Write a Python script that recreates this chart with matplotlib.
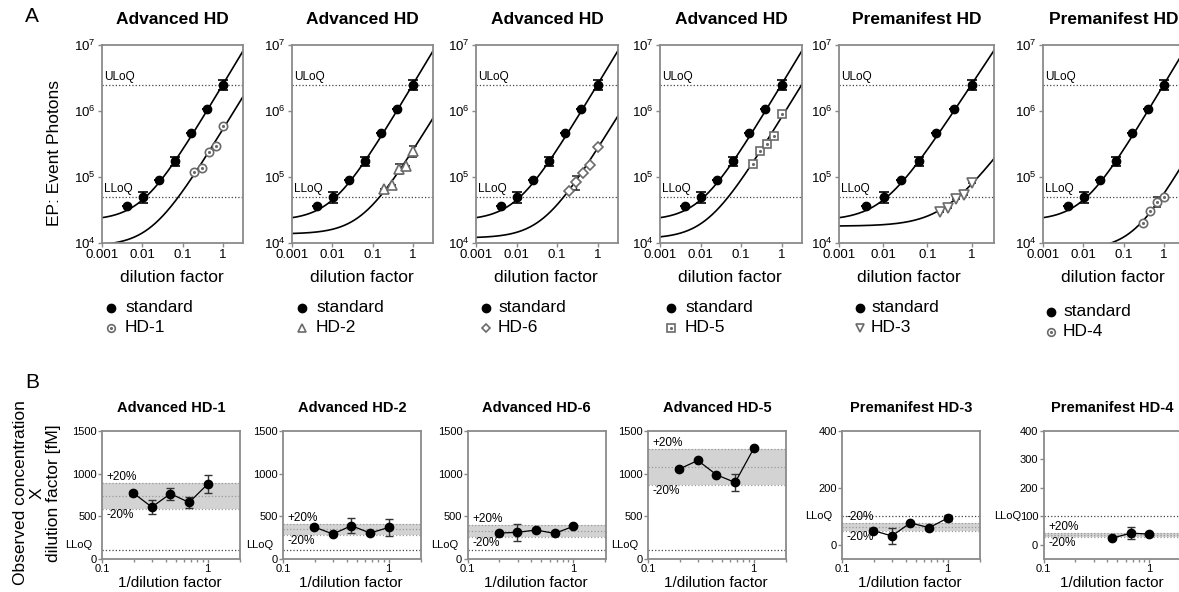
import numpy as np
import matplotlib
matplotlib.use('Agg')
import matplotlib.pyplot as plt
from matplotlib.ticker import FixedLocator, NullLocator, LogLocator, NullFormatter

plt.rcParams['font.family'] = ['Liberation Sans', 'DejaVu Sans']
plt.rcParams['mathtext.default'] = 'regular'

# ------------------------------------------------------------------ data (panel A)
top_titles = ['Advanced HD', 'Advanced HD', 'Advanced HD', 'Advanced HD',
              'Premanifest HD', 'Premanifest HD']
sample_names = ['HD-1', 'HD-2', 'HD-6', 'HD-5', 'HD-3', 'HD-4']

std_x = [0.0041, 0.01024, 0.0256, 0.064, 0.16, 0.4, 1.0]
std_y = [3.6e4, 5.0e4, 9.1e4, 1.75e5, 4.7e5, 1.08e6, 2.5e6]
std_err = [0, 1.0e4, 0, 2.8e4, 0, 0, 4.0e5]

sample_x = [0.1975, 0.296, 0.444, 0.667, 1.0]
hd1_y = [1.17e5, 1.36e5, 2.43e5, 3.0e5, 5.95e5]
hd1_err = [0, 0, 0, 0, 0]
hd2_y = [6.6e4, 7.6e4, 1.33e5, 1.48e5, 2.5e5]
hd2_err = [0, 0, 2.3e4, 0, 5.0e4]
hd6_y = [6.2e4, 8.3e4, 1.15e5, 1.53e5, 2.8e5]
hd6_err = [0, 2.0e4, 0, 0, 0]
hd5_y = [1.57e5, 2.44e5, 3.15e5, 4.2e5, 8.9e5]
hd5_err = [0, 0, 0, 0, 0]
hd3_y = [3.0e4, 3.35e4, 4.6e4, 5.3e4, 8.2e4]
hd3_err = [0, 0, 0, 0, 0]
hd4_x = [0.296, 0.444, 0.667, 1.0]
hd4_y = [2.0e4, 3.1e4, 4.2e4, 4.9e4]
hd4_err = [0, 0, 7.0e3, 0]

lloq_ep = 5.0e4
uloq_ep = 2.5e6

# fitted calibration curves: (background, amplitude, exponent)
std_fit = (2.2e4, 2.5e6, 1.02)
hd1_fit = (9.0e3, 5.2e5, 1.0)
hd2_fit = (1.37e4, 2.42e5, 1.0)
hd6_fit = (1.19e4, 2.6e5, 1.0)
hd5_fit = (1.16e4, 7.9e5, 1.0)
hd3_fit = (1.8e4, 6.0e4, 0.9)
hd4_fit = (8.0e3, 4.8e4, 1.05)

# ------------------------------------------------------------------ data (panel B)
bottom_titles = ['Advanced HD-1', 'Advanced HD-2', 'Advanced HD-6', 'Advanced HD-5',
                 'Premanifest HD-3', 'Premanifest HD-4']
conc_x = [0.1975, 0.296, 0.444, 0.667, 1.0]
conc_hd1 = [773, 609, 765, 663, 878]
conc_hd1_err = [25, 85, 72, 65, 110]
conc_hd2 = [375, 293, 390, 304, 370]
conc_hd2_err = [15, 0, 85, 0, 95]
conc_hd6 = [304, 312, 340, 300, 382]
conc_hd6_err = [0, 100, 25, 0, 0]
conc_hd5 = [1054, 1155, 987, 897, 1295]
conc_hd5_err = [25, 0, 0, 100, 0]
conc_hd3 = [50, 31, 77, 60, 94]
conc_hd3_err = [8, 28, 0, 0, 10]
conc_hd4_x = [0.444, 0.667, 1.0]
conc_hd4 = [23, 41, 37.5]
conc_hd4_err = [0, 21, 5]
lloq_conc = 100

# ------------------------------------------------------------------ layout / styles
W, H = 1179, 592
fig = plt.figure(figsize=(W / 100, H / 100), dpi=100)


def px_axes(left, top, width, height):
    return fig.add_axes([left / W, 1 - (top + height) / H, width / W, height / H])


SPINE = '#8a8a8a'
EDGE = '#6a6a6a'


def style(ax, labelsize=9, pad=1.5):
    for s in ax.spines.values():
        s.set_color(SPINE)
        s.set_linewidth(1.3)
    ax.tick_params(axis='both', which='both', direction='out', color=SPINE,
                   width=1, labelsize=labelsize, pad=pad)
    ax.tick_params(which='major', length=3)
    ax.tick_params(which='minor', length=1.8)


top_lefts = [102, 292, 476, 660, 839, 1043]
top_widths = [141, 141, 142, 142, 155, 141]
top_top, top_h = 45, 198
xmax_top = [3.16, 3.16, 3.2, 3.2, 3.22, 3.16]

samples = [
    (sample_x, hd1_y, hd1_err, hd1_fit, 'o', True),
    (sample_x, hd2_y, hd2_err, hd2_fit, '^', False),
    (sample_x, hd6_y, hd6_err, hd6_fit, 'D', False),
    (sample_x, hd5_y, hd5_err, hd5_fit, 's', True),
    (sample_x, hd3_y, hd3_err, hd3_fit, 'v', False),
    (hd4_x, hd4_y, hd4_err, hd4_fit, 'o', True),
]
marker_sizes = {'o': 6, '^': 6.5, 'D': 5, 's': 6, 'v': 6.5}

legend_offsets = [(9, 23, 308), (10, 24, 308), (10, 22, 308), (11, 25, 308),
                  (21, 32, 308), (8, 20, 312)]

overlay = fig.add_axes([0, 0, 1, 1])
overlay.set_xlim(0, W)
overlay.set_ylim(H, 0)
overlay.axis('off')
overlay.patch.set_alpha(0)

for i in range(6):
    ax = px_axes(top_lefts[i], top_top, top_widths[i], top_h)
    ax.set_xscale('log')
    ax.set_yscale('log')
    xmax = xmax_top[i]
    ax.set_xlim(0.001, xmax)
    ax.set_ylim(1e4, 1e7)
    style(ax, 9.5)
    ax.xaxis.set_major_locator(FixedLocator([0.001, 0.01, 0.1, 1]))
    ax.set_xticklabels(['0.001', '0.01', '0.1', '1'])
    ax.xaxis.set_minor_locator(NullLocator())
    ax.yaxis.set_major_locator(FixedLocator([1e4, 1e5, 1e6, 1e7]))
    ax.set_yticklabels(['$10^{4}$', '$10^{5}$', '$10^{6}$', '$10^{7}$'])
    ax.yaxis.set_minor_locator(NullLocator())

    # LoQ lines
    ax.axhline(uloq_ep, ls=':', color='#444444', lw=0.9, zorder=1)
    ax.axhline(lloq_ep, ls=':', color='#444444', lw=0.9, zorder=1)
    ax.text(0.015, uloq_ep * 1.07, 'ULoQ', transform=ax.get_yaxis_transform(),
            fontsize=8.5, va='bottom', ha='left')
    ax.text(0.015, lloq_ep * 1.07, 'LLoQ', transform=ax.get_yaxis_transform(),
            fontsize=8.5, va='bottom', ha='left')

    xs = np.logspace(-3, np.log10(xmax), 300)
    bg, amp, ex = std_fit
    ax.plot(xs, bg + amp * xs ** ex, color='black', lw=1.2, zorder=2)
    sx, sy, serr, sfit, mk, dot = samples[i]
    bg, amp, ex = sfit
    ax.plot(xs, bg + amp * xs ** ex, color='black', lw=1.2, zorder=2)

    ax.errorbar(std_x, std_y, yerr=std_err, fmt='o', color='black', ms=6,
                capsize=3.5, elinewidth=1.2, capthick=1.2, zorder=4)
    ax.errorbar(sx, sy, yerr=serr, fmt=mk, mfc='white', mec=EDGE, mew=1.2,
                ms=marker_sizes[mk], ecolor='#333333', capsize=3, elinewidth=1,
                capthick=1, zorder=3)
    if dot:
        ax.plot(sx, sy, '.', color=EDGE, ms=2.5, zorder=5)

    cx = top_lefts[i] + top_widths[i] / 2
    fig.text(cx / W, 1 - 20 / H, top_titles[i], fontsize=12.5, fontweight='bold',
             ha='center', va='center')
    fig.text((top_lefts[i] + 70) / W, 1 - 277 / H, 'dilution factor', fontsize=12.5,
             ha='center', va='center')

    # legend
    mo, to, ly = legend_offsets[i]
    mx = top_lefts[i] + mo
    overlay.plot([mx], [ly], 'o', color='black', ms=6)
    overlay.text(top_lefts[i] + to, ly, 'standard', fontsize=12.5, va='center', ha='left')
    overlay.plot([mx], [ly + 20], mk, mfc='white', mec=EDGE, mew=1.2,
                 ms=marker_sizes[mk] - 0.5)
    if dot:
        overlay.plot([mx], [ly + 20], '.', color=EDGE, ms=2.5)
    overlay.text(top_lefts[i] + to, ly + 20, sample_names[i], fontsize=12.5,
                 va='center', ha='left')

fig.text(55 / W, 1 - 153 / H, 'EP: Event Photons', fontsize=12.5, rotation=90,
         ha='center', va='center')
fig.text(25 / W, 1 - 17 / H, 'A', fontsize=15, ha='left', va='center')
fig.text(25 / W, 1 - 382 / H, 'B', fontsize=15, ha='left', va='center')

# ------------------------------------------------------------------ panel B
bot_lefts = [102, 283, 467.5, 648, 842, 1043.5]
bot_top, bot_h, bot_w = 431, 128, 138

conc_sets = [
    (conc_x, conc_hd1, conc_hd1_err),
    (conc_x, conc_hd2, conc_hd2_err),
    (conc_x, conc_hd6, conc_hd6_err),
    (conc_x, conc_hd5, conc_hd5_err),
    (conc_x, conc_hd3, conc_hd3_err),
    (conc_hd4_x, conc_hd4, conc_hd4_err),
]
upper_labels = ['+20%', '+20%', '+20%', '+20%', '-20%', '+20%']

for i in range(6):
    ax = px_axes(bot_lefts[i], bot_top, bot_w, bot_h)
    ax.set_xscale('log')
    ax.set_xlim(0.1, 2.02)
    style(ax, 8, pad=0.8)
    ax.xaxis.set_major_locator(FixedLocator([0.1, 1]))
    ax.set_xticklabels(['0.1', '1'])
    ax.xaxis.set_minor_locator(LogLocator(base=10, subs=np.arange(2, 10)))
    ax.xaxis.set_minor_formatter(NullFormatter())
    if i < 4:
        ax.set_ylim(0, 1500)
        ax.set_yticks([0, 500, 1000, 1500])
    elif i == 4:
        ax.set_ylim(-50, 400)
        ax.set_yticks([0, 200, 400])
    else:
        ax.set_ylim(-50, 400)
        ax.set_yticks([0, 100, 200, 300, 400])

    cxs, cys, cerr = conc_sets[i]
    mean = float(np.mean(cys))
    ax.axhspan(mean * 0.8, mean * 1.2, color='#d3d3d3', lw=0, zorder=0)
    for lev in (mean * 1.2, mean, mean * 0.8):
        ax.axhline(lev, ls=':', color='#9a9a9a', lw=0.9, zorder=1)
    ax.axhline(lloq_conc, ls=':', color='#444444', lw=0.9, zorder=1)

    ax.errorbar(cxs, cys, yerr=cerr, fmt='-o', color='black', ms=6,
                lw=0.9, ecolor='#333333', elinewidth=1, capsize=3, capthick=1,
                zorder=3)

    yt = ax.get_yaxis_transform()
    ax.text(0.035, mean * 1.2, upper_labels[i], transform=yt, fontsize=8.5,
            va='bottom', ha='left')
    ax.text(0.035, mean * 0.8, '-20%', transform=yt, fontsize=8.5,
            va='top', ha='left')
    if i < 5:
        ax.text(-0.07, lloq_conc, 'LLoQ', transform=yt, fontsize=8,
                va='bottom' if i < 4 else 'center', ha='right')
    else:
        ax.text(-0.16, lloq_conc, 'LLoQ', transform=yt, fontsize=8,
                va='center', ha='right')

    cx = bot_lefts[i] + bot_w / 2
    fig.text(cx / W, 1 - 408 / H, bottom_titles[i], fontsize=10.5, fontweight='bold',
             ha='center', va='center')
    fig.text((bot_lefts[i] + 68) / W, 1 - 583 / H, '1/dilution factor', fontsize=11,
             ha='center', va='center')

fig.text(37 / W, 1 - 493 / H, 'Observed concentration\nX\ndilution factor [fM]',
         fontsize=12.5, rotation=90, ha='center', va='center', linespacing=1.15,
         multialignment='center')

fig.savefig('out.png', dpi=100)
